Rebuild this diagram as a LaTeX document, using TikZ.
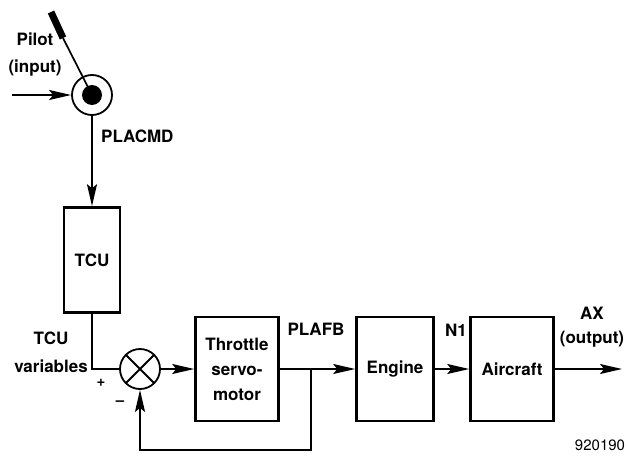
\documentclass[tikz,border=0pt]{standalone}
\usepackage{fontspec}
\setmainfont{TeX Gyre Heros}
\usetikzlibrary{arrows.meta}

\begin{document}
\begin{tikzpicture}[x=1pt, y=-1pt,
  font=\fontsize{17}{25}\selectfont\bfseries,
  blk/.style={draw, line width=2.6pt, inner sep=0pt, align=center},
  ring/.style={draw, circle, line width=1.8pt, minimum size=40pt, inner sep=0pt},
  arr/.style={-{Stealth[length=22pt, width=10pt, inset=4pt]}, line width=1.7pt},
  wire/.style={line width=1.7pt},
  lbl/.style={inner sep=0pt, align=center},
  sgn/.style={inner sep=0pt, font=\fontsize{15}{17}\selectfont\bfseries}]
\useasboundingbox (0,0) rectangle (628,455);
% pilot lever and input
\node[ring, path picture={\fill (path picture bounding box.center) circle (10pt);}] (pilot) at (92,95) {};
\coordinate (stickA) at (63,38);
\coordinate (stickB) at (51,12);
\coordinate (pin) at (12,95);
\node[lbl] (pilotlbl) at (35,55) {Pilot\\[2pt](input)};
\node[lbl, anchor=west] (placmd) at (101,136) {PLACMD};
% blocks
\node[blk, minimum width=56pt, minimum height=105pt] (tcu) at (92,260) {TCU};
\node[ring, path picture={
  \draw[line width=1.8pt] (path picture bounding box.north west) -- (path picture bounding box.south east)
    (path picture bounding box.north east) -- (path picture bounding box.south west);}] (sum) at (140,369) {};
\node[blk, minimum width=83pt, minimum height=104pt] (thr) at (237,369) {Throttle\\servo-\\motor};
\node[blk, minimum width=77pt, minimum height=104pt] (eng) at (395,369) {Engine};
\node[blk, minimum width=83pt, minimum height=104pt] (air) at (512,369) {Aircraft};
\coordinate (tap) at (311,369);
\coordinate (fb) at (140,450);
\coordinate (out) at (622,369);
% labels
\node[lbl] (tcuvar) at (51,352) {TCU\\[3pt]variables};
\node[sgn] (plus) at (101,383) {+};
\node[sgn] (minus) at (120,403) {–};
\node[lbl] (plafb) at (316,329) {PLAFB};
\node[lbl] (n1) at (456,330) {N1};
\node[lbl] (ax) at (592,327) {AX\\[-1pt](output)};
\node[lbl, font=\fontsize{15}{18}\selectfont] (fig) at (600,445) {920190};
% connectors
\draw[wire] (pilot.center) -- (stickA);
\draw[line width=7pt] (stickA) -- (stickB);
\draw[arr] (pin) -- (pilot.west);
\draw[arr] (pilot.south) -- (tcu.north);
\draw[wire] (tcu.south) |- (sum.west);
\draw[arr] (sum.east) -- (thr.west);
\draw[arr] (thr.east) -- (eng.west);
\draw[arr] (eng.east) -- (air.west);
\draw[arr] (air.east) -- (out);
\draw[arr] (tap) |- (fb) -- (sum.south);
\end{tikzpicture}
\end{document}
